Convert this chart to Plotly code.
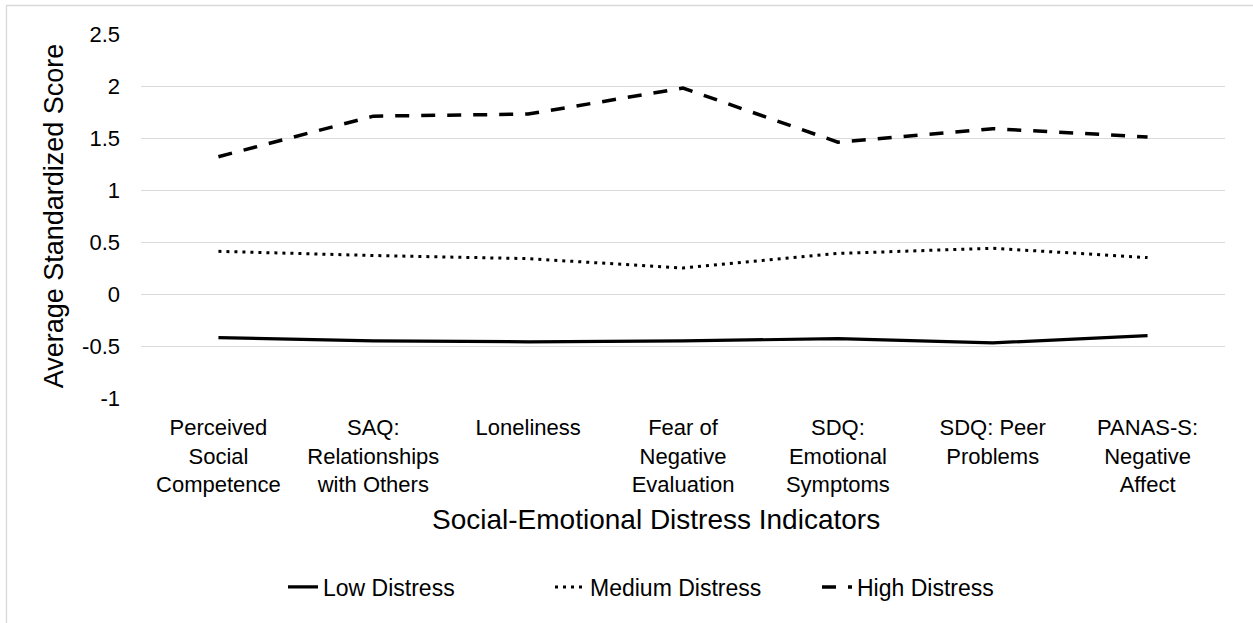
import plotly.graph_objects as go

# Indicator categories (wrapped for the axis)
categories = [
    "Perceived<br>Social<br>Competence",
    "SAQ:<br>Relationships<br>with Others",
    "Loneliness",
    "Fear of<br>Negative<br>Evaluation",
    "SDQ:<br>Emotional<br>Symptoms",
    "SDQ: Peer<br>Problems",
    "PANAS-S:<br>Negative<br>Affect",
]

# Average standardized scores per distress group
low_distress = [-0.42, -0.45, -0.46, -0.45, -0.43, -0.47, -0.40]
medium_distress = [0.41, 0.37, 0.34, 0.25, 0.39, 0.44, 0.35]
high_distress = [1.32, 1.71, 1.73, 1.98, 1.46, 1.59, 1.51]

y_tick_values = [-1, -0.5, 0, 0.5, 1, 1.5, 2, 2.5]
y_tick_labels = ["-1", "-0.5", "0", "0.5", "1", "1.5", "2", "2.5"]

FONT = "Liberation Sans, Arial, sans-serif"
INK = "#000000"
GRID = "#d9d9d9"

W, H = 1253, 623
L, R, T, B = 141, 28, 34, 225

fig = go.Figure()
fig.add_trace(go.Scatter(
    x=categories, y=low_distress, name="Low Distress", mode="lines",
    line=dict(color=INK, width=3.2),
))
fig.add_trace(go.Scatter(
    x=categories, y=medium_distress, name="Medium Distress", mode="lines",
    line=dict(color=INK, width=3, dash="3px,5px"),
))
fig.add_trace(go.Scatter(
    x=categories, y=high_distress, name="High Distress", mode="lines",
    line=dict(color=INK, width=3.5, dash="14px,12px"),
))

pw, ph = W - L - R, H - T - B

# Outer chart-area frame
fig.add_shape(
    type="rect", xref="paper", yref="paper",
    x0=(6.5 - L) / pw, x1=(W + 20 - L) / pw,
    y0=(H - B - (H + 20)) / ph, y1=(H - B - 5.5) / ph,
    line=dict(color=GRID, width=1.3), fillcolor="rgba(0,0,0,0)", layer="below",
)

# Horizontal axis title, centred on the chart area rather than the plot
fig.add_annotation(
    text="Social-Emotional Distress Indicators",
    xref="paper", yref="paper",
    x=(656 - L) / pw, y=(H - B - 519) / ph,
    xanchor="center", yanchor="middle", showarrow=False,
    font=dict(family=FONT, size=28, color=INK),
)

fig.update_layout(
    width=W, height=H,
    margin=dict(l=L, r=R, t=T, b=B, autoexpand=False),
    paper_bgcolor="white", plot_bgcolor="white",
    font=dict(family=FONT, size=22, color=INK),
    showlegend=True,
    legend=dict(
        orientation="h", xref="container", yref="container",
        x=283 / W, xanchor="left", y=1 - 587 / H, yanchor="middle",
        font=dict(family=FONT, size=23, color=INK),
        entrywidth=222, itemwidth=30, traceorder="normal",
    ),
    xaxis=dict(
        type="category", range=[-0.5, len(categories) - 0.5],
        showgrid=False, zeroline=False, showline=False,
        ticks="", tickfont=dict(size=22), ticklabelstandoff=14,
        automargin=False,
    ),
    yaxis=dict(
        range=[-1, 2.5], tickvals=y_tick_values, ticktext=y_tick_labels,
        showgrid=True, gridcolor=GRID, gridwidth=1.3,
        zeroline=False, showline=False, ticks="",
        tickfont=dict(size=22), ticklabelstandoff=20,
        title=dict(text="Average Standardized Score",
                   font=dict(size=27), standoff=10),
        automargin=False,
    ),
)

fig.write_html("out.html")
